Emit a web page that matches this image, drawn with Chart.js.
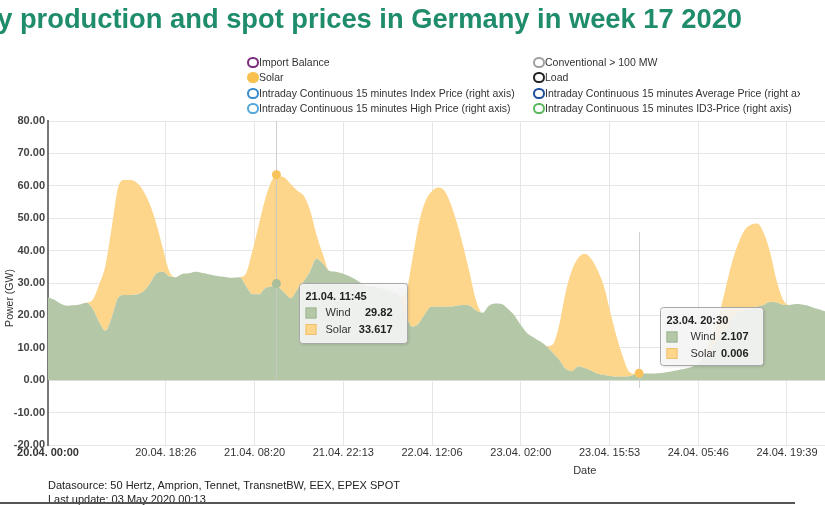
<!DOCTYPE html>
<html>
<head>
<meta charset="utf-8">
<script src="https://cdn.jsdelivr.net/npm/chart.js@4.4.0/dist/chart.umd.min.js"></script>
<style>
html,body{margin:0;padding:0;width:825px;height:505px;overflow:hidden;background:#fff;font-family:Arial,"Liberation Sans",sans-serif;}
#chart{position:absolute;left:0;top:0;}
#title{position:absolute;top:3px;right:83px;white-space:nowrap;font-weight:bold;font-size:27.3px;line-height:31px;color:#1f8c6c;}
#legend{position:absolute;left:0;top:0;width:800px;height:120px;overflow:hidden;font-size:10.5px;color:#333;}
.li{position:absolute;white-space:nowrap;height:14px;line-height:14px;}
.li i{position:absolute;left:-12px;top:1.5px;width:7.5px;height:7.5px;border:2px solid;border-radius:50%;box-sizing:content-box;}
#src{position:absolute;left:48px;top:478px;font-size:11px;color:#222;line-height:14px;white-space:nowrap;}
#rule{position:absolute;left:0;top:502px;width:795px;height:2px;background:#555;}
</style>
</head>
<body>
<canvas id="chart" width="825" height="505"></canvas>
<div id="title">Electricity production and spot prices in Germany in week 17 2020</div>
<div id="legend"></div>
<div id="src">Datasource: 50 Hertz, Amprion, Tennet, TransnetBW, EEX, EPEX SPOT<br>Last update: 03 May 2020 00:13</div>
<div id="rule"></div>
<script>
// ---- data (hours since 20.04.2020 00:00) ----
const hours = [0,1,2,3,4,5,6,7,8,9,10,11,12,13,14,15,16,17,18,19,20,21,22,23,24,25,26,27,28,29,30,31,32,33,34,35,35.75,36,37,38,39,40,41,42,43,44,45,46,47,48,49,50,51,52,53,54,55,56,57,58,59,60,61,62,63,64,65,66,67,68,69,70,71,72,73,74,75,76,77,78,79,80,81,82,83,84,85,86,87,88,89,90,91,92,92.5,93,94,95,96,97,98,99,100,101,102,103,104,105,106,107,108,109,110,111,112,113,114,115,116,117,118,119,120,121,122];
const wind = [25.5,24.8,23.6,23.0,23.1,23.4,23.9,22.0,18.0,15.3,19.5,25.5,26.3,26.3,26.5,27.5,30.0,33.0,33.5,32.0,31.8,32.8,33.0,33.5,33.2,32.8,32.3,32.0,31.8,31.6,31.8,29.0,26.5,26.5,28.4,29.0,29.82,29.0,27.0,25.3,28.0,30.5,33.5,37.5,36.0,33.8,33.5,33.0,32.2,31.2,30.0,28.9,28.9,28.3,27.8,27.3,25.8,20.0,16.5,17.5,20.5,22.7,22.7,22.7,22.7,23.0,23.2,23.0,21.5,20.8,23.0,23.7,23.5,22.0,20.0,17.0,14.5,13.2,12.0,10.5,8.5,6.3,3.5,2.8,4.2,3.8,2.9,2.0,1.6,1.3,1.1,1.1,1.2,1.8,2.107,2.1,2.1,2.1,2.2,2.5,2.9,3.3,3.7,4.3,5.5,7.5,10.0,13.0,16.0,18.5,20.5,21.5,22.0,22.7,23.2,24.2,24.0,23.3,23.2,23.5,23.4,23.0,22.2,21.7,21.0];
const solar = [0,0,0,0,0,0,0,2.8,11.5,20.2,28.0,34.2,35.5,35.5,34.3,30.7,24.0,15.0,7.0,1.5,0,0,0,0,0,0,0,0,0,0,0,4.0,13.5,21.5,27.6,32.5,33.617,34.0,35.6,35.2,30.5,26.5,19.0,7.5,3.0,0,0,0,0,0,0,0,0,0,0,0,0,7.0,20.5,30.5,34.5,35.5,36.8,35.9,31.8,25.5,18.0,10.0,3.0,0,0,0,0,0,0,0,0,0,0,0,2.5,10.7,23.5,31.2,33.6,35.2,34.6,32.0,27.4,19.7,12.3,5.9,1.3,0.1,0.006,0,0,0,0,0,0,0,0,0,0,1.5,4.0,7.0,12.0,17.5,21.5,24.8,26.0,25.7,22.3,15.3,7.0,1.7,0,0,0,0,0,0,0];
const seriesNames = ['Wind','Solar'];
const xTickHours = [0,18.4333,32.3333,46.2167,60.1,74,87.8833,101.7667,115.65];
const xTickLabels = ['20.04. 00:00','20.04. 18:26','21.04. 08:20','21.04. 22:13','22.04. 12:06','23.04. 02:00','23.04. 15:53','24.04. 05:46','24.04. 19:39'];
const tipHours = [35.75, 92.5];
const legendLabels = ['Import Balance','Conventional > 100 MW','Solar','Load','Intraday Continuous 15 minutes Index Price (right axis)','Intraday Continuous 15 minutes Average Price (right axis)','Intraday Continuous 15 minutes High Price (right axis)','Intraday Continuous 15 minutes ID3-Price (right axis)'];
const legendColors = ['#7d2c7d','#a0a0a0','#f8c04f','#222222','#3a8ccb','#1d4e9a','#55a8dc','#5cb85c'];
const legendFilled = [false,false,true,false,false,false,false,false];

// ---- legend ----
const lg = document.getElementById('legend');
const rowTops = [55, 70, 86, 101];
legendLabels.forEach((t,i)=>{
  const d = document.createElement('div');
  d.className='li';
  d.style.left = (i%2===0 ? 259 : 545) + 'px';
  d.style.top = rowTops[Math.floor(i/2)] + 'px';
  const c = document.createElement('i');
  c.style.borderColor = legendColors[i];
  if (legendFilled[i]) { c.style.background = legendColors[i]; }
  d.appendChild(c);
  d.appendChild(document.createTextNode(t));
  lg.appendChild(d);
});

const windFill = '#b4c8a8', solarFill = '#fdd68b';

function fmtTime(h){
  const d = 20 + Math.floor(h/24);
  const m = Math.round((h % 24)*60);
  const hh = String(Math.floor(m/60)).padStart(2,'0');
  const mm = String(m%60).padStart(2,'0');
  return d + '.04. ' + hh + ':' + mm;
}

const tipLayout = [
  {dx:22.5, top:283, w:108, h:60, lineTop:null, lineBottom:0, valRight:93, labX:26},
  {dx:20.5, top:307, w:103, h:58, lineTop:232, lineBottom:388, valRight:88, labX:30}
];

const overlay = {
  id:'overlay',
  afterDatasetsDraw(chart){
    const {ctx, scales:{x,y}, chartArea} = chart;
    ctx.save();
    tipHours.forEach((h,k)=>{
      const L = tipLayout[k];
      const px = Math.round(x.getPixelForValue(h)) + 0.5;
      const t = L.lineTop===null ? chartArea.top : L.lineTop;
      const b = k===0 ? y.getPixelForValue(L.lineBottom) : L.lineBottom;
      ctx.strokeStyle = 'rgba(200,200,200,0.85)';
      ctx.lineWidth = 1;
      ctx.beginPath(); ctx.moveTo(px,t); ctx.lineTo(px,b); ctx.stroke();
    });
    tipHours.forEach((h,k)=>{
      const idx = hours.indexOf(h);
      const pw = chart.getDatasetMeta(0).data[idx];
      const ps = chart.getDatasetMeta(1).data[idx];
      if (k===0) {
        ctx.fillStyle = '#a9bf9b';
        ctx.beginPath(); ctx.arc(pw.x, pw.y, 4.5, 0, Math.PI*2); ctx.fill();
      }
      ctx.fillStyle = '#f9c35a';
      ctx.beginPath(); ctx.arc(ps.x, ps.y, 4.5, 0, Math.PI*2); ctx.fill();
    });
    ctx.restore();
  },
  afterDraw(chart){
    const {ctx, scales:{x,y}, chartArea} = chart;
    ctx.save();
    ctx.fillStyle = '#333';
    ctx.font = '10.5px Arial, "Liberation Sans", sans-serif';
    ctx.textAlign = 'center'; ctx.textBaseline = 'middle';
    ctx.save();
    ctx.translate(10, (chartArea.top+chartArea.bottom)/2 + 15);
    ctx.rotate(-Math.PI/2);
    ctx.fillText('Power (GW)', 0, 0);
    ctx.restore();
    ctx.font = '11px Arial, "Liberation Sans", sans-serif';
    ctx.fillText('Date', x.getPixelForValue(84), 471);
    tipHours.forEach((h,k)=>{
      const L = tipLayout[k];
      const idx = hours.indexOf(h);
      const left = Math.round(x.getPixelForValue(h) + L.dx) + 0.5;
      const top = L.top + 0.5;
      ctx.save();
      ctx.shadowColor = 'rgba(0,0,0,0.18)'; ctx.shadowBlur = 3; ctx.shadowOffsetX = 1; ctx.shadowOffsetY = 1;
      ctx.fillStyle = 'rgba(249,249,249,0.88)';
      ctx.beginPath();
      ctx.roundRect(left, top, L.w, L.h, 3);
      ctx.fill();
      ctx.restore();
      ctx.strokeStyle = '#a8a8a8'; ctx.lineWidth = 1;
      ctx.beginPath(); ctx.roundRect(left, top, L.w, L.h, 3); ctx.stroke();
      ctx.textBaseline = 'middle';
      ctx.textAlign = 'left';
      ctx.fillStyle = '#222';
      ctx.font = 'bold 11px Arial, "Liberation Sans", sans-serif';
      ctx.fillText(fmtTime(h), left+6, top+13.5);
      const vals = [wind[idx], solar[idx]];
      const cols = [windFill, solarFill];
      vals.forEach((v,r)=>{
        const cy = top + 29.5 + r*16.5;
        ctx.fillStyle = cols[r];
        ctx.fillRect(left+6, cy-5.5, 11, 11);
        ctx.strokeStyle = r===0 ? '#9fb592' : '#efc070';
        ctx.strokeRect(left+6.5, cy-5, 10, 10);
        ctx.fillStyle = '#333';
        ctx.textAlign = 'left';
        ctx.font = '11px Arial, "Liberation Sans", sans-serif';
        ctx.fillText(seriesNames[r], left+L.labX, cy);
        ctx.textAlign = 'right';
        ctx.fillStyle = '#222';
        ctx.font = 'bold 11px Arial, "Liberation Sans", sans-serif';
        ctx.fillText(String(v), left+L.valRight, cy);
      });
    });
    ctx.restore();
  }
};

Chart.defaults.font.family = 'Arial, "Liberation Sans", sans-serif';
new Chart(document.getElementById('chart'), {
  type:'line',
  data:{
    datasets:[
      {label:seriesNames[0], data:hours.map((h,i)=>({x:h,y:wind[i]})), backgroundColor:windFill, borderWidth:0, pointRadius:0, fill:'origin', cubicInterpolationMode:'monotone'},
      {label:seriesNames[1], data:hours.map((h,i)=>({x:h,y:solar[i]})), backgroundColor:solarFill, borderWidth:0, pointRadius:0, fill:'-1', cubicInterpolationMode:'monotone'}
    ]
  },
  options:{
    responsive:false, animation:false, devicePixelRatio:1,
    layout:{padding:{top:121,left:0,right:0,bottom:0}},
    plugins:{legend:{display:false}, tooltip:{enabled:false}},
    scales:{
      x:{type:'linear', min:0, max:121.6,
        afterBuildTicks:(s)=>{ s.ticks = xTickHours.map(v=>({value:v})); },
        afterFit:(s)=>{ s.height = 60; },
        grid:{color:'#e6e6e6', drawTicks:false},
        border:{display:false},
        ticks:{autoSkip:false, maxRotation:0, padding:1, color:'#333',
          font:(c)=>({size:11, weight: c.index===0 ? 'bold' : 'normal'}),
          callback:(v,i)=>xTickLabels[i]}
      },
      y:{stacked:true, min:-20, max:80,
        afterFit:(s)=>{ s.width = 48; },
        grid:{color:'#e6e6e6', drawTicks:false},
        border:{display:true, color:'#777', width:2},
        ticks:{stepSize:10, padding:3, color:'#444', font:{size:11, weight:'bold'},
          callback:(v)=>v.toFixed(2)}
      }
    }
  },
  plugins:[overlay]
});
</script>
</body>
</html>
